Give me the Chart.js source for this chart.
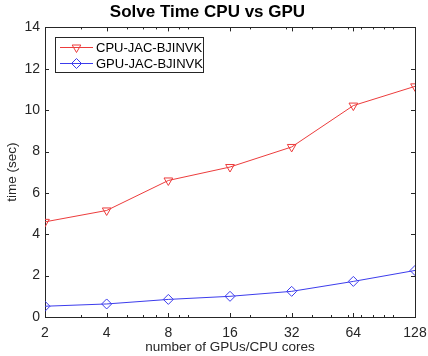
<!DOCTYPE html>
<html>
<head>
<meta charset="utf-8">
<script src="https://cdn.jsdelivr.net/npm/chart.js@4"></script>
<style>
  html, body { margin: 0; padding: 0; background: #fff; }
  #wrap { width: 428px; height: 356px; }
</style>
</head>
<body>
<div id="wrap"><canvas id="myChart" width="428" height="356"></canvas></div>
<script>
// 데이터
var cores = [2, 4, 8, 16, 32, 64, 128];
var cpuTime = [4.6, 5.15, 6.6, 7.25, 8.22, 10.22, 11.15];
var gpuTime = [0.52, 0.63, 0.85, 1.0, 1.24, 1.72, 2.25];
var xTicks = [2, 4, 8, 16, 32, 64, 128];
var xMinorTicks = [3, 5, 6, 7, 9, 10, 20, 30, 40, 50, 60, 70, 80, 90, 100];
var yTicks = [0, 2, 4, 6, 8, 10, 12, 14];

var FONT = "'Liberation Sans', Arial, sans-serif";
var TXT = '#262626';
var RED = 'rgb(236, 60, 60)';
var BLUE = 'rgb(60, 60, 236)';

function toPoints(ys) {
  return cores.map(function (c, i) { return { x: c, y: ys[i] }; });
}

// matlab 스타일 박스 + 안쪽 눈금
var boxPlugin = {
  id: 'boxPlugin',
  beforeDatasetsDraw: function (chart) {
    var ctx = chart.ctx;
    var a = chart.chartArea;
    var xs = chart.scales.x;
    var ys = chart.scales.y;
    ctx.save();
    ctx.strokeStyle = '#262626';
    ctx.lineWidth = 1;
    ctx.beginPath();
    xTicks.forEach(function (v) {
      var px = Math.round(xs.getPixelForValue(v)) + 0.5;
      ctx.moveTo(px, a.bottom); ctx.lineTo(px, a.bottom - 4);
      ctx.moveTo(px, a.top); ctx.lineTo(px, a.top + 4);
    });
    xMinorTicks.forEach(function (v) {
      var px = Math.round(xs.getPixelForValue(v)) + 0.5;
      ctx.moveTo(px, a.bottom); ctx.lineTo(px, a.bottom - 2);
      ctx.moveTo(px, a.top); ctx.lineTo(px, a.top + 2);
    });
    yTicks.forEach(function (v) {
      var py = Math.round(ys.getPixelForValue(v)) + 0.5;
      ctx.moveTo(a.left, py); ctx.lineTo(a.left + 4, py);
      ctx.moveTo(a.right, py); ctx.lineTo(a.right - 4, py);
    });
    ctx.stroke();
    ctx.strokeRect(Math.round(a.left) + 0.5, Math.round(a.top) + 0.5,
      Math.round(a.right - a.left), Math.round(a.bottom - a.top));
    ctx.restore();
  },
  afterDraw: function (chart) {
    // 범례
    var ctx = chart.ctx;
    var bx = 55.5, by = 37.5, bw = 148, bh = 35;
    ctx.save();
    ctx.fillStyle = '#fff';
    ctx.fillRect(bx, by, bw, bh);
    ctx.strokeStyle = '#262626';
    ctx.lineWidth = 1;
    ctx.strokeRect(bx, by, bw, bh);
    ctx.font = '13px ' + FONT;
    ctx.textBaseline = 'middle';
    chart.data.datasets.forEach(function (ds, i) {
      var y = 47 + i * 16;
      ctx.strokeStyle = ds.borderColor;
      ctx.beginPath();
      ctx.moveTo(60, y + 0.5); ctx.lineTo(93, y + 0.5);
      ctx.stroke();
      ctx.fillStyle = 'rgba(0,0,0,0)';
      Chart.helpers.drawPoint(ctx, {
        pointStyle: ds.pointStyle,
        rotation: ds.pointRotation,
        radius: ds.pointRadius,
        borderWidth: 1
      }, 76.5, y + 0.5);
      ctx.fillStyle = '#000';
      ctx.fillText(ds.label, 96, y + 1);
    });
    ctx.restore();
  }
};

var chartArea = document.getElementById('myChart').getContext('2d');
var myChart = new Chart(chartArea, {
  type: 'line',
  data: {
    datasets: [{
      label: 'CPU-JAC-BJINVK',
      data: toPoints(cpuTime),
      borderColor: RED,
      backgroundColor: 'transparent',
      borderWidth: 1,
      pointStyle: 'triangle',
      pointRotation: 180,
      pointRadius: 5,
      pointBorderWidth: 1,
      pointBackgroundColor: 'transparent',
      fill: false
    }, {
      label: 'GPU-JAC-BJINVK',
      data: toPoints(gpuTime),
      borderColor: BLUE,
      backgroundColor: 'transparent',
      borderWidth: 1,
      pointStyle: 'rectRot',
      pointRadius: 5,
      pointBorderWidth: 1,
      pointBackgroundColor: 'transparent',
      fill: false
    }]
  },
  options: {
    responsive: false,
    animation: false,
    events: [],
    layout: {
      padding: { top: 0, right: 13, left: 0, bottom: 0 }
    },
    plugins: {
      legend: { display: false },
      tooltip: { enabled: false },
      title: {
        display: true,
        text: 'Solve Time CPU vs GPU',
        color: '#000',
        font: { family: FONT, size: 17, weight: 'bold' },
        padding: { top: 2, bottom: 5 }
      }
    },
    scales: {
      x: {
        type: 'logarithmic',
        min: 2,
        max: 128,
        afterBuildTicks: function (scale) {
          scale.ticks = xTicks.map(function (v) { return { value: v }; });
        },
        afterFit: function (scale) {
          scale.height = 39;
          scale.paddingLeft = 0;
          scale.paddingRight = 0;
        },
        grid: { display: false, drawTicks: false },
        border: { display: false },
        ticks: {
          color: TXT,
          font: { family: FONT, size: 14 },
          padding: 8,
          maxRotation: 0,
          autoSkip: false,
          callback: function (v) { return String(v); }
        },
        title: {
          display: true,
          text: 'number of GPUs/CPU cores',
          color: TXT,
          font: { family: FONT, size: 13.5 },
          padding: { top: 0, bottom: 1 }
        }
      },
      y: {
        min: 0,
        max: 14,
        afterBuildTicks: function (scale) {
          scale.ticks = yTicks.map(function (v) { return { value: v }; });
        },
        afterFit: function (scale) {
          scale.width = 45;
          scale.paddingTop = 0;
          scale.paddingBottom = 0;
        },
        grid: { display: false, drawTicks: false },
        border: { display: false },
        ticks: {
          color: TXT,
          font: { family: FONT, size: 14 },
          padding: 5
        },
        title: {
          display: true,
          text: 'time (sec)',
          color: TXT,
          font: { family: FONT, size: 13.5 },
          padding: { top: 4, bottom: 0 }
        }
      }
    }
  },
  plugins: [boxPlugin]
});
</script>
</body>
</html>
